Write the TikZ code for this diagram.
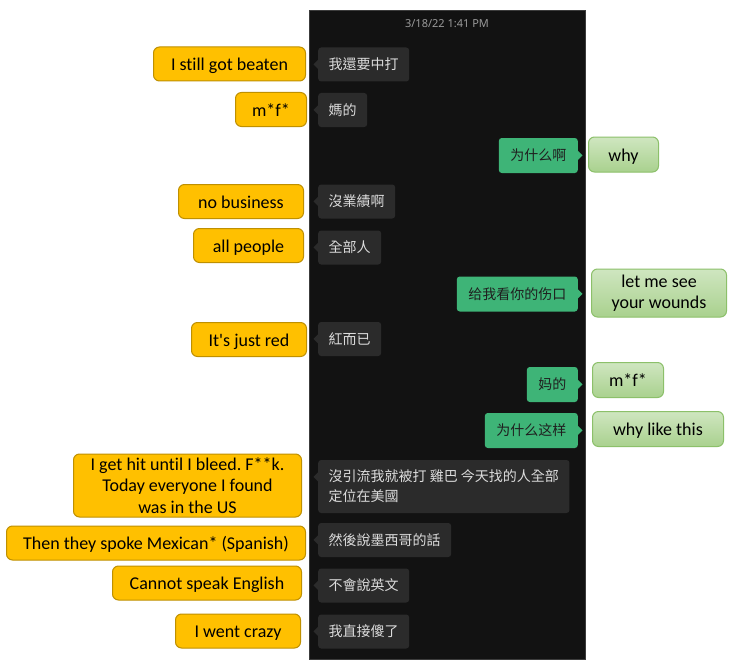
\documentclass[tikz,border=0pt]{standalone}
\usepackage{fontspec}
\setmainfont{Carlito}[Ligatures=CommonOff]
\newfontfamily\tcfont{Noto Sans CJK TC}
\newfontfamily\scfont{Noto Sans CJK SC}
\newfontfamily\uifont{Noto Sans}
\frenchspacing
\definecolor{panelbg}{HTML}{121212}
\definecolor{panelline}{HTML}{3C3C3C}
\definecolor{bubdark}{HTML}{2B2B2B}
\definecolor{bubtext}{HTML}{DCDCDC}
\definecolor{sendgrn}{HTML}{3EB477}
\definecolor{yelfill}{HTML}{FFC000}
\definecolor{yelline}{HTML}{BF9000}
\definecolor{grntop}{HTML}{CFE6C0}
\definecolor{grnbot}{HTML}{A9D18E}
\definecolor{grnline}{HTML}{8CC06A}
\definecolor{stampgray}{HTML}{9A9A9A}

\begin{document}
\begin{tikzpicture}[x=1pt,y=-1pt,
    yelbox/.style={draw=yelline,fill=yelfill,rounded corners=6pt,line width=1pt,inner sep=0pt,align=center,anchor=east,font=\fontsize{18}{21.5}\selectfont},
    grnbox/.style={draw=grnline,top color=grntop,bottom color=grnbot,rounded corners=6pt,line width=1pt,inner sep=0pt,align=center,anchor=west,font=\fontsize{18}{21.5}\selectfont},
    oneline/.style={text height=16pt,text depth=3pt},
    darkbub/.style={fill=bubdark,text=bubtext,rounded corners=3pt,inner xsep=10.5pt,inner ysep=0pt,minimum height=34pt,align=left,anchor=west,font=\tcfont\fontsize{14}{20}\selectfont},
    sendbub/.style={fill=sendgrn,text=black!88,rounded corners=3pt,inner xsep=11.5pt,inner ysep=0pt,minimum height=35pt,anchor=east,font=\scfont\fontsize{14}{20}\selectfont}]
  \useasboundingbox (0,0) rectangle (750,669);
  \fill[white] (0,0) rectangle (750,669);
  \filldraw[fill=panelbg,draw=panelline,line width=0.8pt] (309,10) rectangle (585,659);

  \node[text=stampgray,font=\uifont\fontsize{11}{12}\selectfont] (stamp) at (447,23.5) {3/18/22 1:41 PM};

  \foreach \y/\t [count=\i] in {64.5/我還要中打,110/媽的,201.5/沒業績啊,247.5/全部人,339/紅而已,540/然後說墨西哥的話,585.5/不會說英文,631.5/我直接傻了}
    \node[darkbub] (zh\i) at (318,\y) {\t};
  \node[darkbub,minimum height=53pt] (zh9) at (318,486.5) {沒引流我就被打 雞巴 今天找的人全部\\定位在美國};
  \foreach \i in {1,...,9}
    \fill[bubdark] ([yshift=-12.5pt]zh\i.north west) -- ++(-4.5pt,-4.5pt) -- ++(4.5pt,-4.5pt) -- cycle;

  \foreach \y/\t [count=\i] in {155.5/为什么啊,294/给我看你的伤口,384.5/妈的,430.5/为什么这样}
    \node[sendbub] (cn\i) at (578,\y) {\t};
  \foreach \i in {1,...,4}
    \fill[sendgrn] ([yshift=-13pt]cn\i.north east) -- ++(4.5pt,-4.5pt) -- ++(-4.5pt,-4.5pt) -- cycle;

  \foreach \x/\y/\w/\t [count=\i] in {306/64/152/I still got beaten,307/109.5/71/m*f*,304/201.5/125/no business,304/245.5/110/all people,307/339.5/115/It\textquotesingle s just red,306/543/299/Then they spoke Mexican* (Spanish),302/583/189/Cannot speak English,301/631/125/I went crazy}
    \node[yelbox,oneline,minimum width=\w pt,minimum height=34pt] (en\i) at (\x,\y) {\t};
  \node[yelbox,minimum width=228pt,minimum height=63pt] (en9) at (302,485.5) {I get hit until I bleed. F**k.\\Today everyone I found\\was in the US};

  \foreach \x/\y/\w/\t [count=\i] in {588/154.5/70/why,592/380/71/m*f*,592/429/131/why like this}
    \node[grnbox,oneline,minimum width=\w pt,minimum height=35pt] (tr\i) at (\x,\y) {\t};
  \node[grnbox,minimum width=135pt,minimum height=48pt] (tr4) at (591,293) {let me see\\your wounds};
\end{tikzpicture}
\end{document}
